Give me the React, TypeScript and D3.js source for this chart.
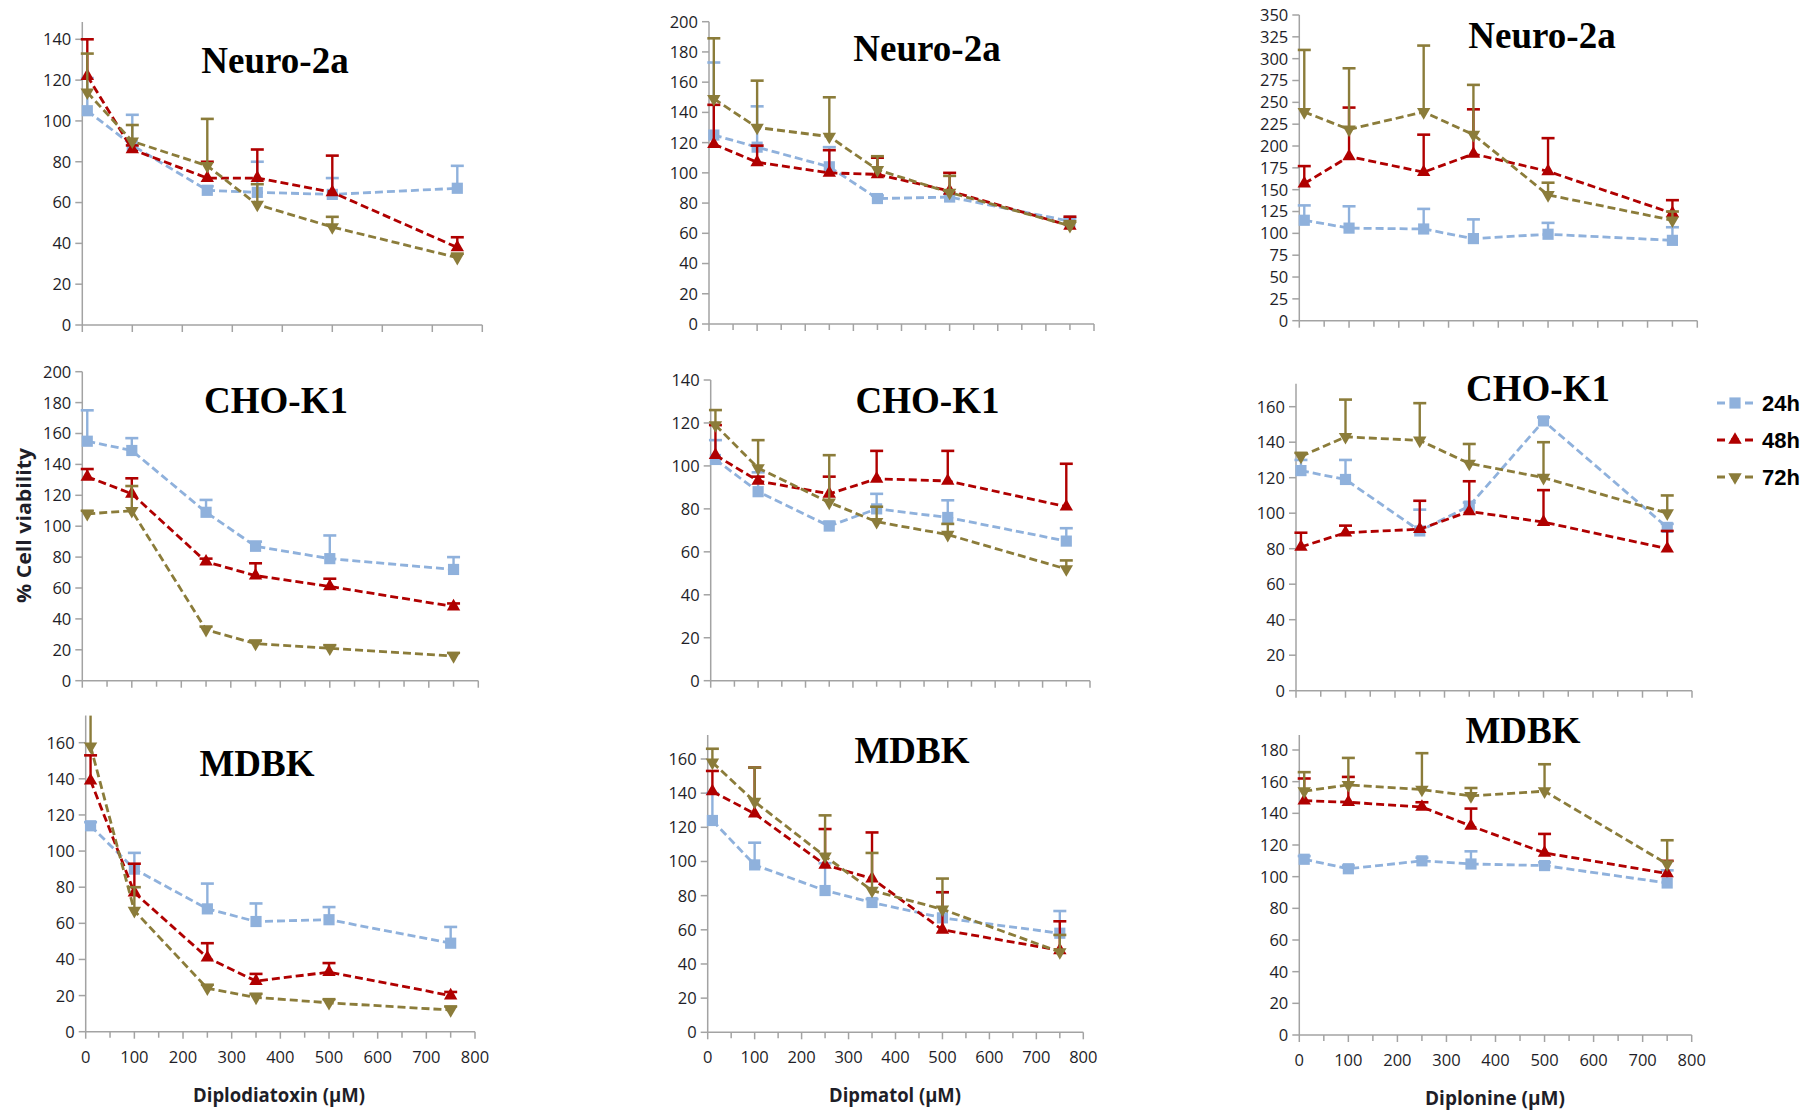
import React from 'react';
import * as d3 from 'd3';

// ---------- DATA ----------
const doses = [10, 100, 250, 350, 500, 750];
const seriesNames = ['24h', '48h', '72h'];
const seriesColors = ['#8FB1DC', '#B00000', '#8B7C3A'];
const xTickValues = [0, 100, 200, 300, 400, 500, 600, 700, 800];
const xMinorValues = [50, 150, 250, 350, 450, 550, 650, 750];

// rows: 24h, 48h, 72h
const neuroDiplodiatoxinMean = [[105, 88, 66, 65, 64, 67], [122, 86, 72, 72, 65, 38], [114, 90, 78, 59, 48, 33]];
const neuroDiplodiatoxinErr = [[16, 15, 2, 15, 8, 11], [18, 2, 8, 14, 18, 5], [19, 8, 23, 10, 5, 2]];
const neuroDipmatolMean = [[125, 117, 104, 83, 84, 68], [119, 107, 100, 99, 88, 65], [149, 130, 124, 102, 87, 65]];
const neuroDipmatolErr = [[48, 27, 13, 2, 2, 2], [26, 11, 15, 11, 12, 6], [40, 31, 26, 9, 11, 3]];
const neuroDiplonineMean = [[115, 106, 105, 94, 99, 92], [157, 188, 170, 191, 171, 123], [239, 219, 239, 213, 144, 115]];
const neuroDiplonineErr = [[17, 25, 23, 22, 13, 15], [20, 56, 43, 51, 38, 15], [71, 70, 76, 57, 14, 10]];

const choDiplodiatoxinMean = [[155, 149, 109, 87, 79, 72], [132, 121, 77, 68, 61, 48], [108, 110, 33, 24, 21, 16]];
const choDiplodiatoxinErr = [[20, 8, 8, 3, 15, 8], [5, 10, 2, 8, 5, 2], [2, 16, 2, 2, 2, 2]];
const choDipmatolMean = [[103, 88, 72, 80, 76, 65], [105, 93, 87, 94, 93, 81], [119, 99, 83, 74, 68, 52]];
const choDipmatolErr = [[9, 9, 2, 7, 8, 6], [14, 2, 8, 13, 14, 20], [7, 13, 22, 7, 5, 4]];
const choDiplonineMean = [[124, 119, 90, 104, 152, 92], [81, 89, 91, 101, 95, 80], [132, 143, 141, 128, 120, 100]];
const choDiplonineErr = [[6, 11, 12, 2, 2, 2], [8, 4, 16, 17, 18, 10], [2, 21, 21, 11, 20, 10]];

const mdbkDiplodiatoxinMean = [[114, 90, 68, 61, 62, 49], [139, 77, 41, 28, 33, 20], [158, 67, 24, 19, 16, 12]];
const mdbkDiplodiatoxinErr = [[2, 9, 14, 10, 7, 9], [14, 16, 8, 4, 5, 2], [20, 13, 2, 2, 2, 2]];
const mdbkDipmatolMean = [[124, 98, 83, 76, 67, 58], [141, 128, 98, 90, 60, 48], [158, 135, 103, 83, 72, 47]];
const mdbkDipmatolErr = [[16, 13, 16, 2, 15, 13], [12, 27, 21, 27, 22, 17], [8, 20, 24, 22, 18, 10]];
const mdbkDiplonineMean = [[111, 105, 110, 108, 107, 96], [148, 147, 144, 132, 115, 102], [154, 158, 155, 151, 154, 108]];
const mdbkDiplonineErr = [[2, 2, 2, 8, 2, 8], [14, 16, 3, 11, 12, 8], [12, 17, 23, 5, 17, 15]];

const yTicks140 = [0, 20, 40, 60, 80, 100, 120, 140];
const yTicks160 = [0, 20, 40, 60, 80, 100, 120, 140, 160];
const yTicks180 = [0, 20, 40, 60, 80, 100, 120, 140, 160, 180];
const yTicks200 = [0, 20, 40, 60, 80, 100, 120, 140, 160, 180, 200];
const yTicks350 = [0, 25, 50, 75, 100, 125, 150, 175, 200, 225, 250, 275, 300, 325, 350];

// ---------- LAYOUT ----------
const panels = [
  { title: 'Neuro-2a', mean: neuroDiplodiatoxinMean, err: neuroDiplodiatoxinErr, yTicks: yTicks140, left: 82.3, right: 482.3, bottom: 325, refVal: 140, refY: 39.3, yMax: 148.5, minor: false, xTitle: null, tx: 275, ty: 73 },
  { title: 'Neuro-2a', mean: neuroDipmatolMean, err: neuroDipmatolErr, yTicks: yTicks200, left: 709, right: 1094, bottom: 324, refVal: 200, refY: 21.7, yMax: 200, minor: true, xTitle: null, tx: 927, ty: 61 },
  { title: 'Neuro-2a', mean: neuroDiplonineMean, err: neuroDiplonineErr, yTicks: yTicks350, left: 1299.3, right: 1697.3, bottom: 320.7, refVal: 350, refY: 15, yMax: 350, minor: true, xTitle: null, tx: 1542, ty: 48 },
  { title: 'CHO-K1', mean: choDiplodiatoxinMean, err: choDiplodiatoxinErr, yTicks: yTicks200, left: 82.3, right: 478.3, bottom: 680.7, refVal: 200, refY: 371.7, yMax: 200, minor: true, xTitle: null, tx: 276, ty: 413 },
  { title: 'CHO-K1', mean: choDipmatolMean, err: choDipmatolErr, yTicks: yTicks140, left: 710.7, right: 1090, bottom: 680.7, refVal: 140, refY: 380, yMax: 140, minor: true, xTitle: null, tx: 927.5, ty: 412.7 },
  { title: 'CHO-K1', mean: choDiplonineMean, err: choDiplonineErr, yTicks: yTicks160, left: 1296, right: 1692, bottom: 690.7, refVal: 160, refY: 406.7, yMax: 173, minor: true, xTitle: null, tx: 1538, ty: 401 },
  { title: 'MDBK', mean: mdbkDiplodiatoxinMean, err: mdbkDiplodiatoxinErr, yTicks: yTicks160, left: 85.7, right: 475, bottom: 1031.7, refVal: 160, refY: 742.7, yMax: 175, minor: true, xTitle: 'Diplodiatoxin (µM)', xTitleLen: 172, xTitleX: 279, tx: 257, ty: 776 },
  { title: 'MDBK', mean: mdbkDipmatolMean, err: mdbkDipmatolErr, yTicks: yTicks160, left: 707.7, right: 1083.3, bottom: 1032.3, refVal: 160, refY: 759, yMax: 174, minor: true, xTitle: 'Dipmatol (µM)', xTitleLen: 132, xTitleX: 895, tx: 912, ty: 763.3 },
  { title: 'MDBK', mean: mdbkDiplonineMean, err: mdbkDiplonineErr, yTicks: yTicks180, left: 1299.3, right: 1691.7, bottom: 1035, refVal: 180, refY: 750, yMax: 189.5, minor: true, xTitle: 'Diplonine (µM)', xTitleLen: 140, xTitleX: 1495, tx: 1523, ty: 743.3 },
];

const AXIS = '#A3A3A3';
const LABEL = '#1E1E28';
const TICKFONT = '"Open Sans", "Noto Sans", sans-serif';

function Marker({ kind, cx, cy, color }: { kind: number; cx: number; cy: number; color: string }) {
  if (kind === 0) {
    const d = d3.symbol().type(d3.symbolSquare).size(125)() as string;
    return <path d={d} transform={`translate(${cx},${cy})`} fill={color} />;
  }
  const d = d3.symbol().type(d3.symbolTriangle).size(78)() as string;
  return <path d={d} transform={`translate(${cx},${cy}) rotate(${kind === 2 ? 180 : 0})`} fill={color} />;
}

function Panel({ p }: { p: any }) {
  const x = d3.scaleLinear().domain([0, 800]).range([p.left, p.right]);
  const y = d3.scaleLinear().domain([0, p.refVal]).range([p.bottom, p.refY]);
  const line = d3.line<number>().x((_, i) => x(doses[i])).y((d) => y(d));
  return (
    <g>
      <line x1={x(0)} x2={x(0)} y1={y(0)} y2={y(p.yMax)} stroke={AXIS} strokeWidth={1.5} />
      <line x1={x(0)} x2={x(800)} y1={y(0)} y2={y(0)} stroke={AXIS} strokeWidth={1.5} />
      {p.yTicks.map((t: number) => (
        <g key={'y' + t}>
          <line x1={x(0) - 7} x2={x(0)} y1={y(t)} y2={y(t)} stroke={AXIS} strokeWidth={1.5} />
          <text x={x(0) - 11} y={y(t)} dy="0.36em" textAnchor="end" fontFamily={TICKFONT} fontSize={16.5} fill={LABEL}>{t}</text>
        </g>
      ))}
      {xTickValues.map((t) => (
        <line key={'x' + t} x1={x(t)} x2={x(t)} y1={y(0)} y2={y(0) + 7} stroke={AXIS} strokeWidth={1.5} />
      ))}
      {p.minor && xMinorValues.map((t) => (
        <line key={'xm' + t} x1={x(t)} x2={x(t)} y1={y(0)} y2={y(0) + 6} stroke={AXIS} strokeWidth={1.5} />
      ))}
      {p.xTitle && xTickValues.map((t) => (
        <text key={'xl' + t} x={x(t)} y={y(0) + 31} textAnchor="middle" fontFamily={TICKFONT} fontSize={16.5} fill={LABEL}>{t}</text>
      ))}
      {p.xTitle && (
        <text x={p.xTitleX} y={y(0) + 70} textAnchor="middle" fontFamily={TICKFONT} fontWeight="bold" fontSize={19}
          textLength={p.xTitleLen} lengthAdjust="spacingAndGlyphs" fill={LABEL}>{p.xTitle}</text>
      )}
      {p.mean.map((vals: number[], s: number) => (
        <g key={'s' + s}>
          <path d={line(vals) as string} fill="none" stroke={seriesColors[s]} strokeWidth={2.8} strokeDasharray="8,4" />
          {vals.map((v, i) => {
            const top = Math.min(v + p.err[s][i], p.yMax);
            const clipped = v + p.err[s][i] > p.yMax;
            return (
              <g key={'e' + i}>
                <line x1={x(doses[i])} x2={x(doses[i])} y1={y(v)} y2={y(top)} stroke={seriesColors[s]} strokeWidth={2.4} />
                {!clipped && <line x1={x(doses[i]) - 6.5} x2={x(doses[i]) + 6.5} y1={y(top)} y2={y(top)} stroke={seriesColors[s]} strokeWidth={2.6} />}
              </g>
            );
          })}
          {vals.map((v, i) => (
            <Marker key={'m' + i} kind={s} cx={x(doses[i])} cy={y(v)} color={seriesColors[s]} />
          ))}
        </g>
      ))}
      <text x={p.tx} y={p.ty} textAnchor="middle" fontFamily='"Liberation Serif", "Times New Roman", serif' fontWeight="bold" fontSize={37} fill="#000">{p.title}</text>
    </g>
  );
}

function Legend() {
  const ys = [403, 440, 477];
  return (
    <g>
      {seriesNames.map((n, i) => (
        <g key={n}>
          <line x1={1717} x2={1753} y1={ys[i]} y2={ys[i]} stroke={seriesColors[i]} strokeWidth={2.8} strokeDasharray="8,6" />
          <Marker kind={i} cx={1735} cy={ys[i]} color={seriesColors[i]} />
          <text x={1762} y={ys[i]} dy="0.36em" fontFamily='"Liberation Sans", Arial, sans-serif' fontWeight="bold" fontSize={22} fill="#000">{n}</text>
        </g>
      ))}
    </g>
  );
}

export default function App() {
  return (
    <svg width={1811} height={1111} style={{ position: 'absolute', left: 0, top: 0, background: '#fff' }}>
      <rect x={0} y={0} width={1811} height={1111} fill="#fff" />
      {panels.map((p, i) => <Panel key={i} p={p} />)}
      <text transform="translate(31,525.5) rotate(-90)" textAnchor="middle" fontFamily={TICKFONT} fontWeight="bold" fontSize={20}
        textLength={155} lengthAdjust="spacingAndGlyphs" fill={LABEL}>% Cell viability</text>
      <Legend />
    </svg>
  );
}
